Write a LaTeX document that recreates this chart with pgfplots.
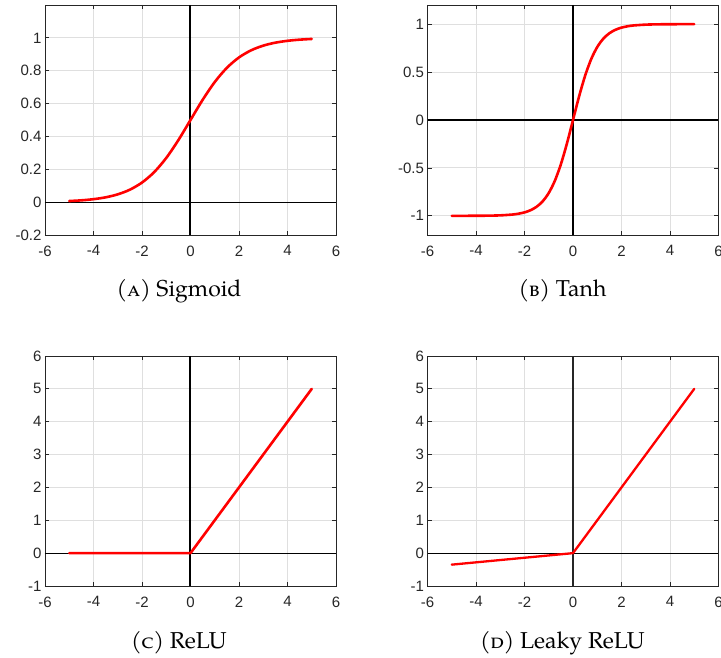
\documentclass[border=0pt]{standalone}
\usepackage{pgfplots}
\pgfplotsset{compat=1.18}
\usepackage{fontspec}
\setmainfont{TeX Gyre Pagella}
\newfontfamily\tickfont{Liberation Sans}
\definecolor{axgray}{RGB}{38,38,38}
\definecolor{gridgray}{RGB}{223,223,223}
\pgfplotsset{
  panel/.style={
    scale only axis, width=291pt, height=230pt, anchor=south west,
    xmin=-6, xmax=6, xtick={-6,-4,-2,0,2,4,6},
    axis line style={axgray, line width=0.9pt},
    tick style={axgray, line width=0.8pt},
    major tick length=4pt, tick align=inside,
    grid=major, major grid style={gridgray, line width=0.9pt},
    ticklabel style={font=\tickfont\fontsize{15}{18}\selectfont, text=axgray},
    /pgf/number format/assume math mode=true,
    xticklabel style={yshift=-7pt},
  },
  curve/.style={red, line width=2.6pt, line join=round, line cap=round},
}
\begin{document}
\begin{tikzpicture}
\useasboundingbox (0pt,0pt) rectangle (721pt,657pt);
% (A) Sigmoid
\begin{axis}[panel, at={(45pt,422pt)}, ymin=-0.2, ymax=1.2,
  ytick={-0.2,0,0.2,0.4,0.6,0.8,1}]
\addplot[black, line width=1.2pt, forget plot] coordinates {(-6,0) (6,0)};
\addplot[black, line width=2pt, forget plot] coordinates {(0,-0.2) (0,1.2)};
\addplot[curve, smooth] coordinates {
(-5,0.0067) (-4.5,0.0110) (-4,0.0180) (-3.5,0.0293) (-3,0.0474) (-2.5,0.0759)
(-2,0.1192) (-1.5,0.1824) (-1,0.2689) (-0.5,0.3775) (0,0.5) (0.5,0.6225)
(1,0.7311) (1.5,0.8176) (2,0.8808) (2.5,0.9241) (3,0.9526) (3.5,0.9707)
(4,0.9820) (4.5,0.9890) (5,0.9933)};
\end{axis}
% (B) Tanh
\begin{axis}[panel, at={(427.5pt,422pt)}, ymin=-1.2, ymax=1.2,
  ytick={-1,-0.5,0,0.5,1}]
\addplot[black, line width=1.2pt, forget plot] coordinates {(-6,0) (6,0)};
\addplot[black, line width=2pt, forget plot] coordinates {(0,-1.2) (0,1.2)};
\addplot[curve, smooth] coordinates {
(-5,-0.9999) (-4.5,-0.9998) (-4,-0.9993) (-3.5,-0.9982) (-3,-0.9951)
(-2.5,-0.9866) (-2.25,-0.9780) (-2,-0.9640) (-1.75,-0.9414) (-1.5,-0.9051)
(-1.25,-0.8483) (-1,-0.7616) (-0.75,-0.6351) (-0.5,-0.4621) (-0.25,-0.2449)
(0,0) (0.25,0.2449) (0.5,0.4621) (0.75,0.6351) (1,0.7616) (1.25,0.8483)
(1.5,0.9051) (1.75,0.9414) (2,0.9640) (2.25,0.9780) (2.5,0.9866) (3,0.9951)
(3.5,0.9982) (4,0.9993) (4.5,0.9998) (5,0.9999)};
\end{axis}
% (C) ReLU
\begin{axis}[panel, at={(45pt,71pt)}, ymin=-1, ymax=6,
  ytick={-1,0,1,2,3,4,5,6}]
\addplot[black, line width=1.2pt, forget plot] coordinates {(-6,0) (6,0)};
\addplot[black, line width=2pt, forget plot] coordinates {(0,-1) (0,6)};
\addplot[curve] coordinates {(-5,0) (0,0) (5,5)};
\end{axis}
% (D) Leaky ReLU
\begin{axis}[panel, at={(427.5pt,71pt)}, ymin=-1, ymax=6,
  ytick={-1,0,1,2,3,4,5,6}]
\addplot[black, line width=1.1pt, forget plot] coordinates {(-6,0) (6,0)};
\addplot[axgray, line width=1.1pt, forget plot] coordinates {(0,-1) (0,6)};
\addplot[curve, line width=2.3pt] coordinates {(-5,-0.35) (0,0) (5,5)};
\end{axis}
% captions
\node[anchor=base, font=\fontsize{23}{27}\selectfont, inner sep=0pt] at (179pt,360pt) {(\textsc{a}) Sigmoid};
\node[anchor=base, font=\fontsize{23}{27}\selectfont, inner sep=0pt] at (562.5pt,360pt) {(\textsc{b}) Tanh};
\node[anchor=base, font=\fontsize{23}{27}\selectfont, inner sep=0pt] at (179pt,9pt) {(\textsc{c}) ReLU};
\node[anchor=base, font=\fontsize{23}{27}\selectfont, inner sep=0pt] at (562.5pt,9pt) {(\textsc{d}) Leaky ReLU};
\end{tikzpicture}
\end{document}
